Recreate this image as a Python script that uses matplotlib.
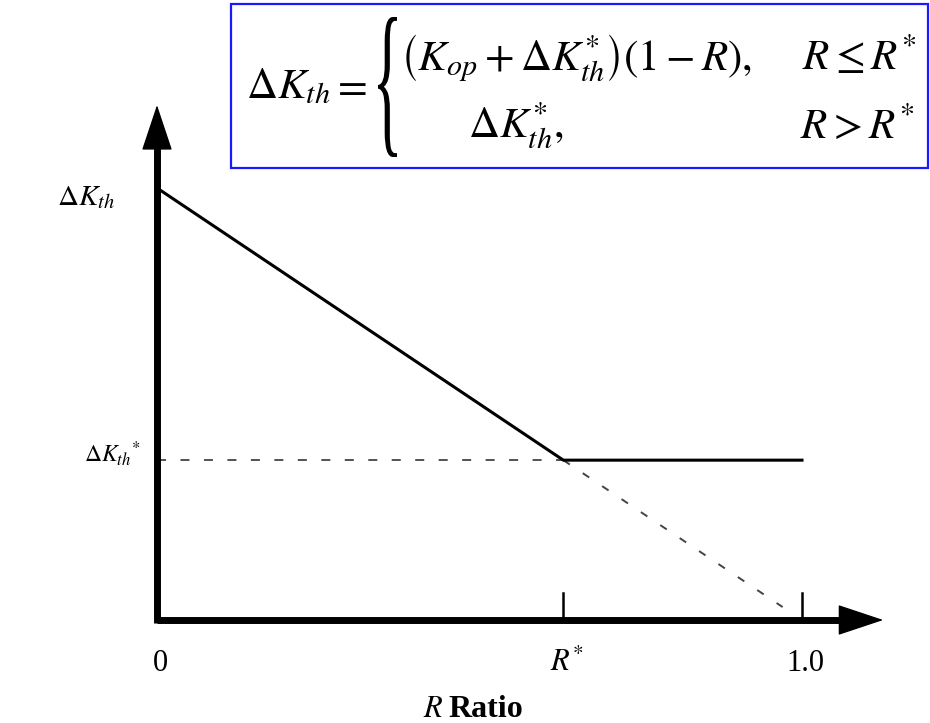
import matplotlib
matplotlib.use("Agg")
import matplotlib.pyplot as plt
from matplotlib.patches import Rectangle, PathPatch
from matplotlib.textpath import TextPath
from matplotlib.font_manager import FontProperties
from matplotlib.transforms import Affine2D

plt.rcParams["mathtext.fontset"] = "stix"
plt.rcParams["font.family"] = ["Liberation Serif", "DejaVu Serif"]

# --- threshold curve data (normalised) ---
R_STAR = 0.63                 # transition load ratio R*
DK_0 = 1.0                    # threshold range at R = 0
DK_STAR = 0.37                # plateau threshold range dK*_th

r_solid = [0.0, R_STAR, 1.0]
dk_solid = [DK_0, DK_STAR, DK_STAR]
r_plateau_ref = [0.0, R_STAR]
dk_plateau_ref = [DK_STAR, DK_STAR]
r_extension = [R_STAR, 0.97]
dk_extension = [DK_STAR, 0.03]

tick_positions = [0.0, R_STAR, 1.0]
tick_labels = ["0", r"$R^{*}$", "1.0"]

W, H = 930, 723
fig = plt.figure(figsize=(W / 100, H / 100), dpi=100)
ax = fig.add_axes([0, 0, 1, 1])
# pixel layout: R=0 at x=157, R=1 at x=802; dK=0 at y=620, dK=1 at y=188
x0, xs = 157.0, 645.0
y0, ys = 620.0, 432.0
ax.set_xlim(-x0 / xs, (W - x0) / xs)
ax.set_ylim((y0 - H) / ys, y0 / ys)
ax.axis("off")


def fpx(x, y):
    """pixel position (from top-left) to figure fraction"""
    return x / W, 1 - y / H


def dpx(x, y):
    """pixel position (from top-left) to data coordinates"""
    return (x - x0) / xs, (y0 - y) / ys


# axes with arrowheads
x_tip, y_tip = 1.126, 1.192
ax.plot([0, 1.06], [0, 0], color="black", lw=5, solid_capstyle="butt", zorder=3)
ax.plot([0, 0], [-0.008, 1.12], color="black", lw=5, solid_capstyle="butt", zorder=3)
head = dict(arrowstyle="-|>,head_length=3.0,head_width=1.0", mutation_scale=10,
            color="black", lw=1, shrinkA=0, shrinkB=0)
ax.annotate("", xy=(x_tip, 0), xytext=(0.9, 0), arrowprops=head, zorder=4)
ax.annotate("", xy=(0, y_tip), xytext=(0, 0.9), arrowprops=head, zorder=4)

# threshold curve
ax.plot(r_solid, dk_solid, color="black", lw=2.2, zorder=2)
ax.plot(r_plateau_ref, dk_plateau_ref, color="#444444", lw=1.3,
        linestyle=(0, (5, 8)), zorder=1)
ax.plot(r_extension, dk_extension, color="#444444", lw=1.4,
        linestyle=(0, (4, 8)), zorder=1)

# tick marks and labels on the R axis
for pos, lab in zip(tick_positions, tick_labels):
    if pos > 0:
        ax.plot([pos, pos], [0, 0.0625], color="black", lw=1.8, zorder=2)
    ax.text(pos + 0.005, -0.118, lab, fontsize=22, ha="center", va="baseline")

ax.text(*dpx(423, 717), r"$R$", fontsize=22, ha="left", va="baseline")
ax.text(*dpx(448, 717), "Ratio", fontsize=23, fontweight="bold",
        ha="left", va="baseline")

# y-axis labels
ax.text(*dpx(86, 205), r"$\Delta K_{th}$", fontsize=21,
        ha="center", va="baseline")
ax.text(-0.07, DK_STAR - 0.004, r"$\Delta K_{th}{}^{*}$", fontsize=17,
        ha="center", va="baseline")

# equation box
bx0, by0 = fpx(231, 168)
bx1, by1 = fpx(928, 4)
fig.patches.append(Rectangle((bx0, by0), bx1 - bx0, by1 - by0,
                             transform=fig.transFigure, facecolor="white",
                             edgecolor="#1a1aff", lw=1.6, zorder=5))

eq_fs = 31
fig.text(*fpx(246, 98), r"$\Delta K_{th}$", fontsize=eq_fs, va="baseline",
         ha="left", zorder=6)
fig.text(*fpx(331, 98), r"$=$", fontsize=eq_fs, va="baseline",
         ha="left", zorder=6)
fig.text(*fpx(400, 70), r"$\left(K_{op} + \Delta K^{*}_{th}\right)(1 - R),$",
         fontsize=eq_fs, va="baseline", ha="left", zorder=6)
fig.text(*fpx(802, 70), r"$R \leq R^{*}$", fontsize=eq_fs, va="baseline",
         ha="left", zorder=6)
fig.text(*fpx(468, 138), r"$\Delta K^{*}_{th},$", fontsize=eq_fs,
         va="baseline", ha="left", zorder=6)
fig.text(*fpx(800, 138), r"$R > R^{*}$", fontsize=eq_fs, va="baseline",
         ha="left", zorder=6)

# tall curly brace, scaled to span both rows
tp = TextPath((0, 0), "{", size=100, prop=FontProperties(family="Liberation Serif"))
ext = tp.get_extents()
bl, bt, br, bb = 378, 17, 397, 157
sx = (br - bl) / ext.width
sy = (bb - bt) / ext.height
tr = (Affine2D().translate(-ext.x0, -ext.y0).scale(sx, sy)
      .translate(bl, H - bb))
brace = PathPatch(tr.transform_path(tp), facecolor="black", edgecolor="none",
                  transform=None, zorder=6)
fig.patches.append(brace)

fig.savefig("out.png", dpi=100)
